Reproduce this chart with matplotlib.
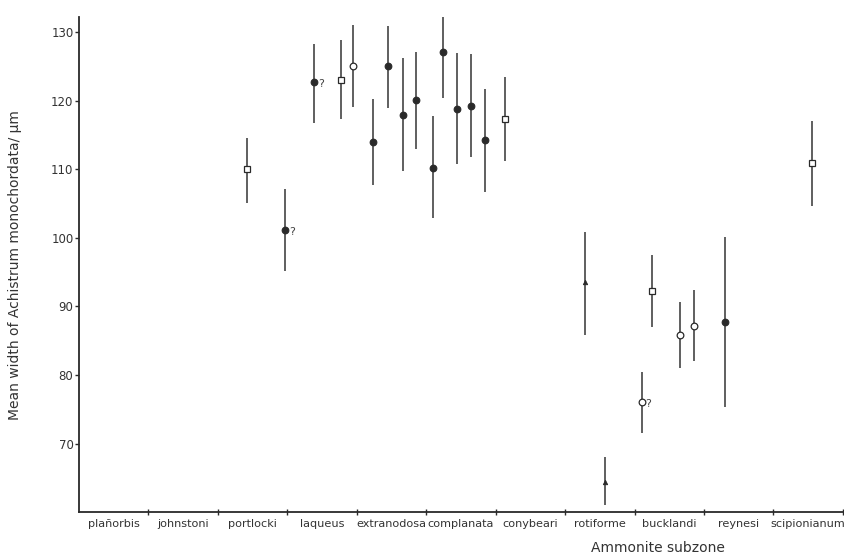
import matplotlib
matplotlib.use("Agg")
import matplotlib.pyplot as plt

subzones = ["plañorbis", "johnstoni", "portlocki", "laqueus", "extranodosa",
            "complanata", "conybeari", "rotiforme", "bucklandi", "reynesi",
            "scipionianum"]

# stratigraphic position (in subzone units), mean, lower, upper, symbol, query flag
pos   = [2.42, 2.97, 3.39, 3.77, 3.94, 4.23, 4.45, 4.66, 4.85, 5.10, 5.24,
         5.44, 5.65, 5.85, 6.14, 7.29, 7.57, 8.10, 8.25, 8.65, 8.85, 9.30, 10.55]
means = [110.1, 101.2, 122.7, 123.0, 125.0, 114.0, 125.0, 117.9, 120.1, 110.2, 127.1,
         118.8, 119.3, 114.3, 117.3, 93.5, 64.4, 76.0, 92.2, 85.9, 87.2, 87.8, 110.9]
lower = [105.1, 95.1, 116.7, 117.3, 119.1, 107.7, 118.9, 109.8, 113.0, 102.9, 120.4,
         110.7, 111.8, 106.7, 111.2, 85.9, 61.1, 71.5, 87.0, 81.1, 82.0, 75.3, 104.6]
upper = [114.6, 107.1, 128.3, 128.8, 131.0, 120.3, 130.9, 126.2, 127.1, 117.8, 133.4,
         127.0, 126.8, 121.7, 123.4, 100.8, 68.0, 80.4, 97.5, 90.6, 92.4, 100.1, 117.1]
kind  = ["open_sq", "filled", "filled", "open_sq", "open_ci", "filled", "filled",
         "filled", "filled", "filled", "filled", "filled", "filled", "filled",
         "open_sq", "tri", "tri", "open_ci", "open_sq", "open_ci", "open_ci",
         "filled", "open_sq"]
query = [False, True, True, False, False, False, False, False, False, False, False,
         False, False, False, False, False, False, True, False, False, False, False, False]

yticks = [70, 80, 90, 100, 110, 120, 130]

ink = "#2a2a2a"
styles = {
    "filled":  dict(marker="o", ms=4.8, mfc=ink, mec=ink, mew=0.8),
    "open_sq": dict(marker="s", ms=4.2, mfc="white", mec=ink, mew=0.9),
    "open_ci": dict(marker="o", ms=4.8, mfc="white", mec=ink, mew=0.9),
    "tri":     dict(marker="^", ms=3.2, mfc=ink, mec=ink, mew=0.6),
}

fig = plt.figure(figsize=(8.45, 5.58), dpi=100)
ax = fig.add_axes([0.0935, 0.082, 0.904, 0.8875])

for x, m, lo, hi, k, q in zip(pos, means, lower, upper, kind, query):
    ax.plot([x, x], [lo, hi], color="#444444", lw=1.2, solid_capstyle="butt", zorder=2)
    ax.plot([x], [m], linestyle="none", zorder=3, **styles[k])
    if q:
        ax.annotate("?", (x, m), xytext=(3, -3.5), textcoords="offset points",
                    fontsize=8, color="#444444")

ax.set_xlim(0, len(subzones))
ax.set_ylim(60, 132.2)

for s in ["top", "right"]:
    ax.spines[s].set_visible(False)
for s in ["left", "bottom"]:
    ax.spines[s].set_color(ink)
    ax.spines[s].set_linewidth(1.3)

ax.set_yticks(yticks)
ax.set_yticklabels([str(v) for v in yticks], fontsize=8.5, color="#333333")
ax.tick_params(axis="y", direction="out", length=3, width=1, color=ink, pad=1)

ax.set_xticks(range(1, len(subzones) + 1))
ax.set_xticklabels([])
ax.tick_params(axis="x", direction="inout", length=5, width=1, color=ink)
ax.set_xticks([i + 0.5 for i in range(len(subzones))], minor=True)
ax.set_xticklabels(subzones, minor=True, fontsize=8.1, color="#333333")
ax.tick_params(axis="x", which="minor", length=0, pad=5)

ax.set_ylabel("Mean width of Achistrum monochordata/ µm", fontsize=10, color="#333333")
ax.yaxis.set_label_coords(-0.074, 0.5)
fig.text(658 / 845, 1 - 548 / 558, "Ammonite subzone", fontsize=10, color="#333333",
         ha="center", va="center")

fig.savefig("out.png", dpi=100, facecolor="white")
